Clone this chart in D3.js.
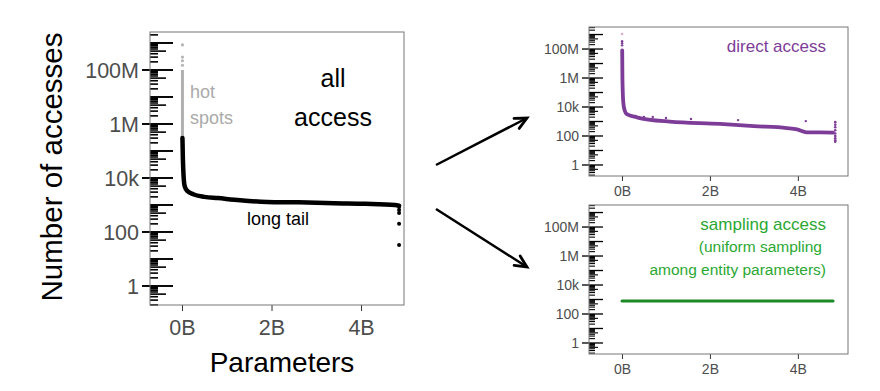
<!DOCTYPE html>
<html>
<head>
<meta charset="utf-8">
<script src="https://cdn.jsdelivr.net/npm/d3@7"></script>
<style>
  html, body { margin: 0; padding: 0; background: #fff; }
  svg { display: block; font-family: "Liberation Sans", Arial, Helvetica, sans-serif; }
</style>
</head>
<body>
<svg id="chart" width="880" height="391"></svg>
<script>
// ---- data (x in billions of parameters) ----
const xTicks = [0, 2, 4];
const yLabelTicks = [1, 100, 1e4, 1e6, 1e8];
const yLabelText = ["1", "100", "10k", "1M", "100M"];

// all access: sorted access counts
const allX = [0.01, 0.02, 0.035, 0.06, 0.12, 0.25, 0.5, 0.8, 1.3, 1.9, 2.6, 3.4, 4.1, 4.76, 4.85];
const allY = [3e5, 5e4, 1.2e4, 5e3, 3.3e3, 2.5e3, 2.0e3, 1.8e3, 1.5e3, 1.3e3, 1.25e3, 1.15e3, 1.1e3, 1.0e3, 950];
const hotLineY = [3e5, 1e8];
const hotDotY = [1.5e8, 2.2e8, 3e8, 8.5e8];
const allTailY = [850, 650, 500, 200, 33];

// direct access
const directX = [0.005, 0.01, 0.03, 0.06, 0.11, 0.34, 1.09, 2.23, 3.0, 3.75, 3.98, 4.2, 4.5, 4.8];
const directY = [8e7, 1e6, 2e4, 6e3, 3.2e3, 1.95e3, 970, 680, 480, 355, 290, 180, 175, 170];
const directTopY = [1.8e8, 2.5e8, 3.5e8, 1.1e9];
const directOutX = [0.3, 0.5, 0.7, 1.0, 1.57, 2.64, 4.18];
const directOutY = [2400, 2050, 2050, 1750, 1500, 1250, 1070];
const directTailY = [900, 600, 400, 250, 150, 100, 70, 50, 40];

// sampling access: uniform
const sampleX = [0, 1, 2, 3, 4, 4.8];
const sampleY = [800, 800, 800, 800, 800, 800];

const svg = d3.select("#chart");
const FONT_GREY = "#4d4d4d";
const PURPLE = "#7d3c98";
const GREEN_TXT = "#2aa832";
const GREEN_LINE = "#1c8a24";

// builds one panel with log ticks inside the left border
function makePanel(o) {
  const x = d3.scaleLinear().domain(o.xDomain).range([o.x0, o.x1]);
  const y = d3.scaleLog().domain(o.yDomain).range([o.y1, o.y0]);
  const g = svg.append("g");

  // log ticks (annotation style)
  const lo = Math.floor(Math.log10(o.yDomain[0])), hi = Math.ceil(Math.log10(o.yDomain[1]));
  const minor = [];
  for (let p = lo; p <= hi; p++) {
    for (let k = 1; k <= 9; k++) {
      const v = k * Math.pow(10, p);
      if (v >= o.yDomain[0] && v <= o.yDomain[1]) minor.push({ v, k });
    }
  }
  g.selectAll(".lt").data(minor).join("line")
    .attr("x1", o.x0)
    .attr("x2", d => o.x0 + (d.k === 1 ? o.tl[0] : d.k === 5 ? o.tl[1] : o.tl[2]))
    .attr("y1", d => y(d.v)).attr("y2", d => y(d.v))
    .attr("stroke", "#000")
    .attr("stroke-width", d => d.k === 1 ? o.tw * 1.2 : o.tw);

  // y labels with small outward ticks
  g.selectAll(".yt").data(yLabelTicks).join("line")
    .attr("x1", o.x0 - o.out).attr("x2", o.x0)
    .attr("y1", d => y(d)).attr("y2", d => y(d))
    .attr("stroke", "#000").attr("stroke-width", o.tw * 1.2);
  g.selectAll(".yl").data(yLabelTicks).join("text")
    .attr("x", o.x0 - o.out - 3)
    .attr("y", d => y(d))
    .attr("dy", "0.36em")
    .attr("text-anchor", "end")
    .attr("fill", FONT_GREY)
    .style("font-size", o.fs + "px")
    .text((d, i) => yLabelText[i]);

  // x axis
  const ax = g.append("g")
    .attr("transform", `translate(0,${o.y1})`)
    .call(d3.axisBottom(x).tickValues(xTicks).tickSize(o.xt).tickPadding(o.pad).tickFormat(d => d + "B"));
  ax.select(".domain").remove();
  ax.selectAll(".tick line").attr("stroke", "#333");
  ax.selectAll("text").attr("fill", FONT_GREY).style("font-size", o.fs + "px")
    .style("font-family", "'Liberation Sans', Arial, sans-serif");

  // border
  g.append("rect")
    .attr("x", o.x0).attr("y", o.y0)
    .attr("width", o.x1 - o.x0).attr("height", o.y1 - o.y0)
    .attr("fill", "none").attr("stroke", "#777").attr("stroke-width", 1);

  return { x, y, g };
}

const yDomL = [Math.pow(10, -0.704), Math.pow(10, 9.407)];
const yDomR = [Math.pow(10, -0.76), Math.pow(10, 9.52)];

// ---- left panel: all access ----
const L = makePanel({
  x0: 150, x1: 404, y0: 32, y1: 305,
  xDomain: [-0.715, 4.96], yDomain: yDomL,
  tl: [23, 16, 8], tw: 1.6, out: 8, fs: 21.5, xt: 6, pad: 9
});

const lineL = d3.line().x(d => L.x(d[0])).y(d => L.y(d[1])).curve(d3.curveMonotoneX);
L.g.append("line")
  .attr("x1", L.x(0.01)).attr("x2", L.x(0.01))
  .attr("y1", L.y(hotLineY[0])).attr("y2", L.y(hotLineY[1]))
  .attr("stroke", "#b0b0b0").attr("stroke-width", 3);
L.g.selectAll(".hot").data(hotDotY).join("circle")
  .attr("cx", L.x(0.01)).attr("cy", d => L.y(d)).attr("r", 1.6).attr("fill", "#b5b5b5");
L.g.append("path")
  .attr("d", lineL(allX.map((v, i) => [v, allY[i]])))
  .attr("fill", "none").attr("stroke", "#000").attr("stroke-width", 4.5)
  .attr("stroke-linecap", "round");
L.g.selectAll(".tail").data(allTailY).join("circle")
  .attr("cx", L.x(4.85)).attr("cy", d => L.y(d)).attr("r", 2).attr("fill", "#000");

L.g.append("text").attr("x", 190).attr("y", 98).attr("fill", "#aaa").style("font-size", "18px").text("hot");
L.g.append("text").attr("x", 190).attr("y", 124).attr("fill", "#aaa").style("font-size", "18px").text("spots");
L.g.append("text").attr("x", 333).attr("y", 87).attr("text-anchor", "middle").style("font-size", "25px").text("all");
L.g.append("text").attr("x", 333).attr("y", 126).attr("text-anchor", "middle").style("font-size", "25px").text("access");
L.g.append("text").attr("x", 278).attr("y", 225).attr("text-anchor", "middle").style("font-size", "18px").text("long tail");

svg.append("text")
  .attr("transform", "translate(62,167) rotate(-90)")
  .attr("text-anchor", "middle")
  .style("font-size", "29.5px")
  .text("Number of accesses");
svg.append("text")
  .attr("x", 282).attr("y", 372)
  .attr("text-anchor", "middle")
  .style("font-size", "28px")
  .text("Parameters");

// ---- top right: direct access ----
const D = makePanel({
  x0: 589, x1: 848, y0: 27, y1: 176,
  xDomain: [-0.75, 5.14], yDomain: yDomR,
  tl: [14, 9, 6], tw: 1.1, out: 7, fs: 14, xt: 5, pad: 5
});
const lineD = d3.line().x(d => D.x(d[0])).y(d => D.y(d[1])).curve(d3.curveMonotoneX);
D.g.append("path")
  .attr("d", lineD(directX.map((v, i) => [v, directY[i]])))
  .attr("fill", "none").attr("stroke", PURPLE).attr("stroke-width", 3.8)
  .attr("stroke-linecap", "round");
D.g.selectAll(".top").data(directTopY).join("circle")
  .attr("cx", D.x(0.003)).attr("cy", d => D.y(d)).attr("r", 1.2)
  .attr("fill", (d, i) => i === directTopY.length - 1 ? "#d9a6c9" : PURPLE);
D.g.selectAll(".out").data(directOutX).join("circle")
  .attr("cx", d => D.x(d)).attr("cy", (d, i) => D.y(directOutY[i])).attr("r", 1.2).attr("fill", PURPLE);
D.g.selectAll(".tail").data(directTailY).join("circle")
  .attr("cx", D.x(4.85)).attr("cy", d => D.y(d)).attr("r", 1.3).attr("fill", PURPLE);
D.g.append("text").attr("x", 826).attr("y", 52).attr("text-anchor", "end")
  .attr("fill", PURPLE).style("font-size", "17px").text("direct access");

// ---- bottom right: sampling access ----
const S = makePanel({
  x0: 589, x1: 848, y0: 205, y1: 354,
  xDomain: [-0.75, 5.14], yDomain: yDomR,
  tl: [14, 9, 6], tw: 1.1, out: 7, fs: 14, xt: 5, pad: 5
});
const lineS = d3.line().x(d => S.x(d[0])).y(d => S.y(d[1]));
S.g.append("path")
  .attr("d", lineS(sampleX.map((v, i) => [v, sampleY[i]])))
  .attr("fill", "none").attr("stroke", GREEN_LINE).attr("stroke-width", 3)
  .attr("stroke-linecap", "round");
S.g.append("text").attr("x", 826).attr("y", 230).attr("text-anchor", "end")
  .attr("fill", GREEN_TXT).style("font-size", "17px").text("sampling access");
S.g.append("text").attr("x", 822).attr("y", 252).attr("text-anchor", "end")
  .attr("fill", GREEN_TXT).style("font-size", "15.5px").text("(uniform sampling");
S.g.append("text").attr("x", 826).attr("y", 275).attr("text-anchor", "end")
  .attr("fill", GREEN_TXT).style("font-size", "15.5px").text("among entity parameters)");

// ---- arrows ----
function arrow(x1, y1, x2, y2) {
  const a = Math.atan2(y2 - y1, x2 - x1), len = 13, spread = 0.45;
  svg.append("line").attr("x1", x1).attr("y1", y1).attr("x2", x2).attr("y2", y2)
    .attr("stroke", "#000").attr("stroke-width", 2.5);
  const p = [
    [x2 - len * Math.cos(a - spread), y2 - len * Math.sin(a - spread)],
    [x2, y2],
    [x2 - len * Math.cos(a + spread), y2 - len * Math.sin(a + spread)]
  ];
  svg.append("path").attr("d", d3.line()(p))
    .attr("fill", "none").attr("stroke", "#000").attr("stroke-width", 2.8)
    .attr("stroke-linejoin", "miter").attr("stroke-linecap", "round");
}
arrow(436, 165, 527, 118);
arrow(436, 209, 527, 267);
</script>
</body>
</html>
